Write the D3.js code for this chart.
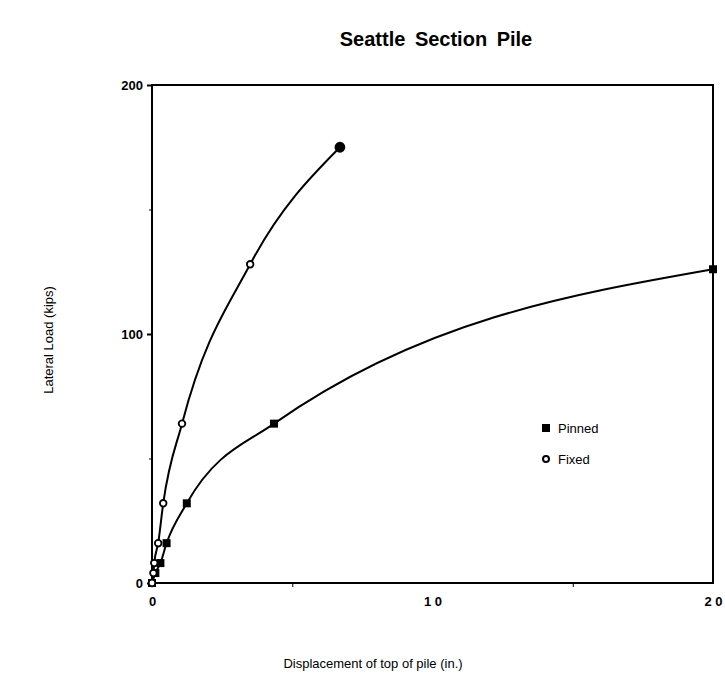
<!DOCTYPE html>
<html>
<head>
<meta charset="utf-8">
<script src="https://cdn.jsdelivr.net/npm/d3@7"></script>
<style>
  body { margin: 0; background: #fff; }
  text { font-family: "Liberation Sans", Arial, sans-serif; fill: #000; }
</style>
</head>
<body>
<script>
// values: load (kips) vs displacement (in.)
var pinnedDisp = [0, 0.12, 0.3, 0.52, 1.24, 4.35, 20];
var pinnedLoad = [0, 4, 8, 16, 32, 64, 126];
var fixedDisp  = [0, 0.05, 0.08, 0.22, 0.4, 1.07, 3.5, 6.7];
var fixedLoad  = [0, 4, 8, 16, 32, 64, 128, 175];
var xTicks = [0, 10, 20];
var xMinor = [5, 15];
var yTicks = [0, 100, 200];
var yMinor = [50, 150];

var width = 725, height = 688;
var margin = {left: 152, right: 12, top: 85, bottom: 105};

var svg = d3.select("body").append("svg").attr("width", width).attr("height", height);
var chartGroup = svg.append("g");

var x = d3.scaleLinear().domain([0, 20]).range([margin.left, width - margin.right]);
var y = d3.scaleLinear().domain([0, 200]).range([height - margin.bottom, margin.top]);

var pinned = pinnedDisp.map(function(d, i){ return {x: d, y: pinnedLoad[i]}; });
var fixed = fixedDisp.map(function(d, i){ return {x: d, y: fixedLoad[i]}; });

// frame
chartGroup.append("rect")
    .attr("x", x(0)).attr("y", y(200))
    .attr("width", x(20) - x(0)).attr("height", y(0) - y(200))
    .attr("fill", "none").attr("stroke", "#000").attr("stroke-width", 2);

// axes
var xAxis = chartGroup.append("g")
    .attr("transform", "translate(0," + y(0) + ")")
    .call(d3.axisBottom(x).tickValues(xTicks).tickSize(0).tickPadding(14).tickFormat(function(d){ return d === 0 ? "0" : String(d).split("").join(" "); }));
xAxis.select(".domain").remove();
xAxis.selectAll("text").style("font-size", "13px").style("font-weight", "bold").attr("font-family", null);

chartGroup.append("g")
    .attr("transform", "translate(0," + y(0) + ")")
    .call(d3.axisBottom(x).tickValues(xMinor).tickSize(4).tickFormat(""))
    .select(".domain").remove();

var yAxis = chartGroup.append("g")
    .attr("transform", "translate(" + x(0) + ",0)")
    .call(d3.axisLeft(y).tickValues(yTicks).tickSize(5).tickPadding(4));
yAxis.select(".domain").remove();
yAxis.selectAll("line").attr("stroke-width", 2);
yAxis.selectAll("text").style("font-size", "13px").style("font-weight", "bold").attr("font-family", null);

chartGroup.append("g")
    .attr("transform", "translate(" + x(0) + ",0)")
    .call(d3.axisLeft(y).tickValues(yMinor).tickSize(3).tickFormat(""))
    .select(".domain").remove();

// curves
var line = d3.line()
    .curve(d3.curveMonotoneX)
    .x(function(d){ return x(d.x); })
    .y(function(d){ return y(d.y); });

chartGroup.append("path").attr("fill", "none").attr("stroke", "#000").attr("stroke-width", 2).attr("d", line(pinned));
chartGroup.append("path").attr("fill", "none").attr("stroke", "#000").attr("stroke-width", 2).attr("d", line(fixed));

chartGroup.append("g").selectAll("rect")
    .data(pinned).enter().append("rect")
    .attr("x", function(d){ return x(d.x) - 4; })
    .attr("y", function(d){ return y(d.y) - 4; })
    .attr("width", 8).attr("height", 8)
    .attr("fill", "#000");

chartGroup.append("g").selectAll("circle")
    .data(fixed).enter().append("circle")
    .attr("cx", function(d){ return x(d.x); })
    .attr("cy", function(d){ return y(d.y); })
    .attr("r", function(d, i){ return i === fixed.length - 1 ? 4.5 : 3.3; })
    .attr("fill", function(d, i){ return i === fixed.length - 1 ? "#000" : "#fff"; })
    .attr("stroke", "#000").attr("stroke-width", 1.8);

// legend
var legend = chartGroup.append("g").attr("transform", "translate(546,428)");
legend.append("rect").attr("x", -4).attr("y", -4).attr("width", 8).attr("height", 8).attr("fill", "#000");
legend.append("text").attr("x", 12).attr("y", 5).style("font-size", "13px").text("Pinned");
legend.append("circle").attr("cx", 0).attr("cy", 31).attr("r", 3).attr("fill", "#fff").attr("stroke", "#000").attr("stroke-width", 2);
legend.append("text").attr("x", 12).attr("y", 36).style("font-size", "13px").text("Fixed");

// titles
svg.append("text")
    .attr("x", 436).attr("y", 46)
    .style("text-anchor", "middle").style("font-size", "20px").style("font-weight", "bold")
    .style("word-spacing", "4px")
    .text("Seattle Section Pile");

svg.append("text")
    .attr("x", 373).attr("y", 668)
    .style("text-anchor", "middle").style("font-size", "13px")
    .text("Displacement of top of pile (in.)");

svg.append("text")
    .attr("transform", "rotate(-90)")
    .attr("x", -340).attr("y", 53)
    .style("text-anchor", "middle").style("font-size", "13px")
    .text("Lateral Load (kips)");
</script>
</body>
</html>
